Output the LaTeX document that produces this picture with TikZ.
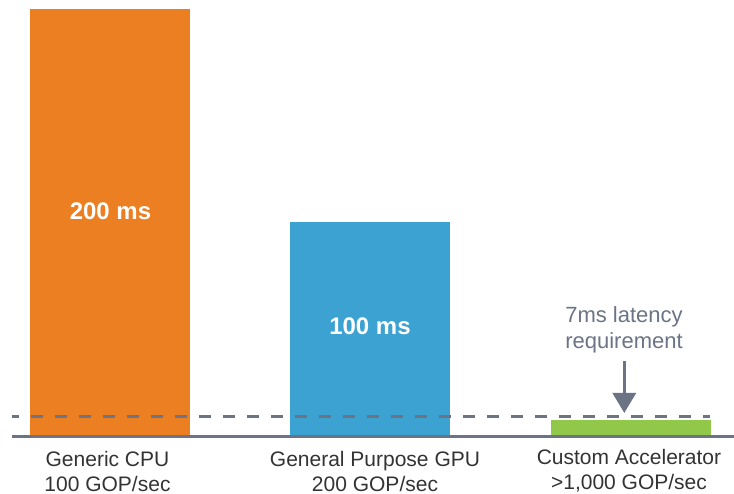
\documentclass[tikz,border=0pt]{standalone}
\usepackage{fontspec}
\setmainfont{Liberation Sans}
\usetikzlibrary{arrows.meta}
\definecolor{cpuorange}{HTML}{EC7F22}
\definecolor{gpublue}{HTML}{3BA2D2}
\definecolor{accgreen}{HTML}{92C84A}
\definecolor{axisgray}{HTML}{6B7385}
\definecolor{labeltext}{HTML}{333333}
\tikzset{
  barbox/.style={fill=#1, draw=none, inner sep=0pt},
  bartext/.style={text=white, font=\fontsize{24}{28}\selectfont\bfseries, inner sep=0pt},
  catlabel/.style={text=labeltext, font=\fontsize{21}{25}\selectfont, align=center, inner sep=0pt},
  notetext/.style={text=axisgray, font=\fontsize{22}{26}\selectfont, align=center, inner sep=0pt},
}
\begin{document}
\begin{tikzpicture}[x=1pt,y=-1pt]
\useasboundingbox (0,0) rectangle (734,494);
% bars
\fill[cpuorange] (30,9) rectangle (190,436.5);
\fill[gpublue] (290,222) rectangle (450,436.5);
\fill[accgreen] (551,420) rectangle (711,436.5);
% dashed requirement line
\coordinate (dashL) at (12,416.5);
\coordinate (dashR) at (710,416.5);
\draw[axisgray, line width=3.2pt, dash pattern=on 12pt off 12pt, dash phase=5.3pt] (dashL) -- (dashR);
% baseline
\coordinate (baseL) at (12,436.7);
\coordinate (baseR) at (734,436.7);
\draw[axisgray, line width=3.2pt] (baseL) -- (baseR);
% bar texts
\node[bartext] (t200) at (110.5,211) {200 ms};
\node[bartext] (t100) at (370,326) {100 ms};
% category labels
\node[catlabel] (cpu) at (107.5,471) {Generic CPU\\100 GOP/sec};
\node[catlabel] (gpu) at (375,471) {General Purpose GPU\\200 GOP/sec};
\node[catlabel] (acc) at (629,471) {Custom Accelerator\\{>}1,000 GOP/sec};
% note and arrow
\node[notetext] (note) at (624,330) {7ms latency\\requirement};
\coordinate (arrS) at (624.3,361);
\coordinate (arrE) at (624.3,413);
\draw[axisgray, line width=3.2pt, -{Triangle[width=23pt,length=20pt]}] (arrS) -- (arrE);
\end{tikzpicture}
\end{document}
